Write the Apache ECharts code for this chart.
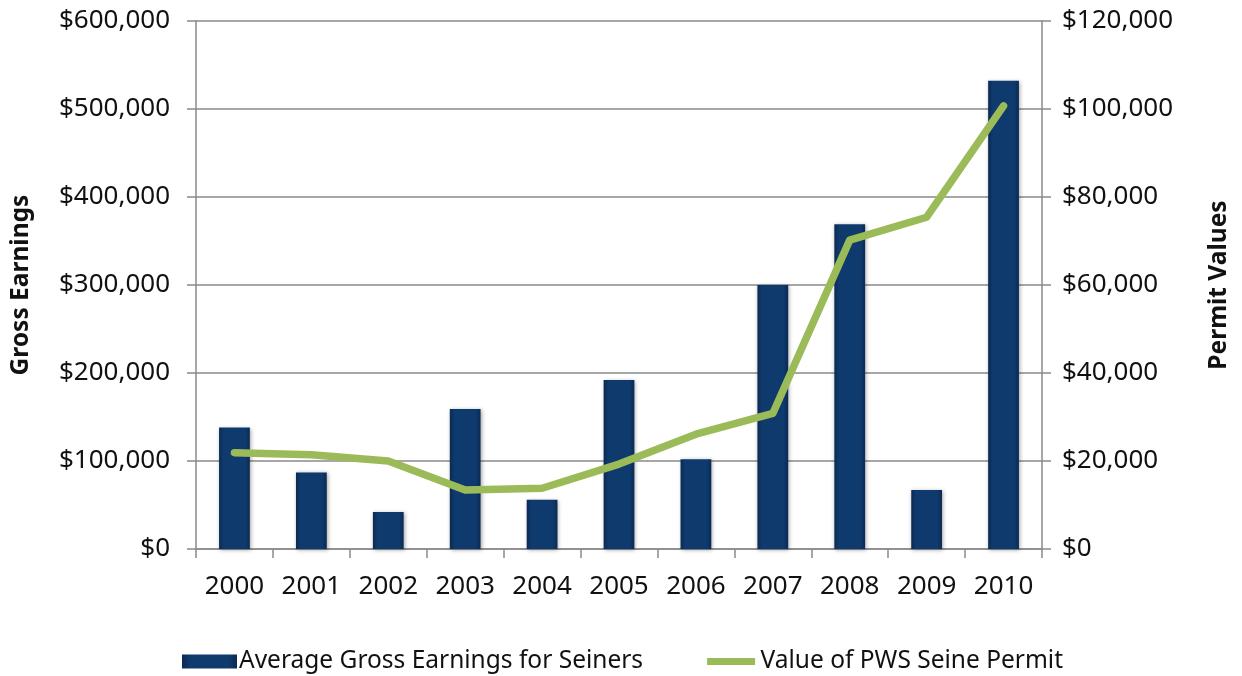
<!DOCTYPE html>
<html>
<head>
<meta charset="utf-8">
<script src="https://cdn.jsdelivr.net/npm/echarts@6/dist/echarts.min.js"></script>
<style>
  html, body { margin: 0; padding: 0; background: #fff; }
  #chart { width: 1242px; height: 676px; }
</style>
</head>
<body>
<div id="chart"></div>
<script>
// data
const years = ['2000', '2001', '2002', '2003', '2004', '2005', '2006', '2007', '2008', '2009', '2010'];
const grossEarnings = [138000, 87000, 42000, 159000, 56000, 192000, 102000, 300000, 369000, 67000, 532000];
const permitValues = [21900, 21400, 20000, 13400, 13800, 19300, 26100, 30800, 70200, 75400, 100700];

const font = '"Noto Sans", "Open Sans", sans-serif';
const money = v => '$' + v.toLocaleString('en-US');

const chart = echarts.init(document.getElementById('chart'));

const axisGray = '#8a8a8a';

const option = {
    animation: false,
    textStyle: { fontFamily: font },
    grid: { left: 196, right: 200, top: 21, bottom: 127 },
    legend: {
        bottom: -3,
        left: 177,
        itemGap: 57,
        itemWidth: 55,
        itemHeight: 14,
        textStyle: { fontSize: 24.5, color: '#111', fontFamily: font, padding: [0, 0, 0, -3] },
        data: [
            { name: 'Average Gross Earnings for Seiners', icon: 'rect' },
            {
                name: 'Value of PWS Seine Permit',
                icon: 'rect',
                // white border trims the rect down to a thick line
                itemStyle: { color: '#9bbb59', borderColor: '#fff', borderWidth: 7 }
            }
        ]
    },
    xAxis: {
        type: 'category',
        data: years,
        axisLine: { lineStyle: { color: axisGray, width: 1.5 } },
        axisTick: { show: true, length: 9, lineStyle: { color: axisGray, width: 1.5 } },
        axisLabel: { color: '#111', fontSize: 26, margin: 25, interval: 0 }
    },
    yAxis: [
        {
            type: 'value',
            min: 0, max: 600000, interval: 100000,
            name: 'Gross Earnings',
            nameLocation: 'middle',
            nameGap: 162,
            nameTextStyle: { fontSize: 24.5, fontWeight: 'bold', color: '#111' },
            axisLine: { show: true, lineStyle: { color: axisGray, width: 1.5 } },
            axisTick: { show: true, length: 9, lineStyle: { color: axisGray, width: 1.5 } },
            axisLabel: { color: '#111', fontSize: 26, margin: 26, formatter: money },
            splitLine: { lineStyle: { color: axisGray, width: 1.5 } }
        },
        {
            type: 'value',
            min: 0, max: 120000, interval: 20000,
            name: 'Permit Values',
            nameLocation: 'middle',
            nameGap: 165,
            nameTextStyle: { fontSize: 24.5, fontWeight: 'bold', color: '#111' },
            axisLine: { show: true, lineStyle: { color: axisGray, width: 1.5 } },
            axisTick: { show: true, length: 9, lineStyle: { color: axisGray, width: 1.5 } },
            axisLabel: { color: '#111', fontSize: 26, margin: 20, formatter: money },
            splitLine: { show: false }
        }
    ],
    series: [
        {
            name: 'Average Gross Earnings for Seiners',
            type: 'bar',
            yAxisIndex: 0,
            barWidth: '40%',
            data: grossEarnings,
            itemStyle: {
                color: new echarts.graphic.LinearGradient(0, 0, 1, 0, [
                    { offset: 0, color: '#0a2a52' },
                    { offset: 0.15, color: '#0f3a6e' },
                    { offset: 0.85, color: '#0f3a6e' },
                    { offset: 1, color: '#0a2a52' }
                ]),
                shadowColor: 'rgba(0,0,0,0.35)',
                shadowBlur: 4,
                shadowOffsetX: 1,
                shadowOffsetY: 1
            }
        },
        {
            name: 'Value of PWS Seine Permit',
            type: 'line',
            yAxisIndex: 1,
            data: permitValues,
            symbol: 'none',
            lineStyle: { color: '#9bbb59', width: 7.5, cap: 'round', join: 'round' },
            itemStyle: { color: '#9bbb59' }
        }
    ]
};

option && chart.setOption(option);
</script>
</body>
</html>
